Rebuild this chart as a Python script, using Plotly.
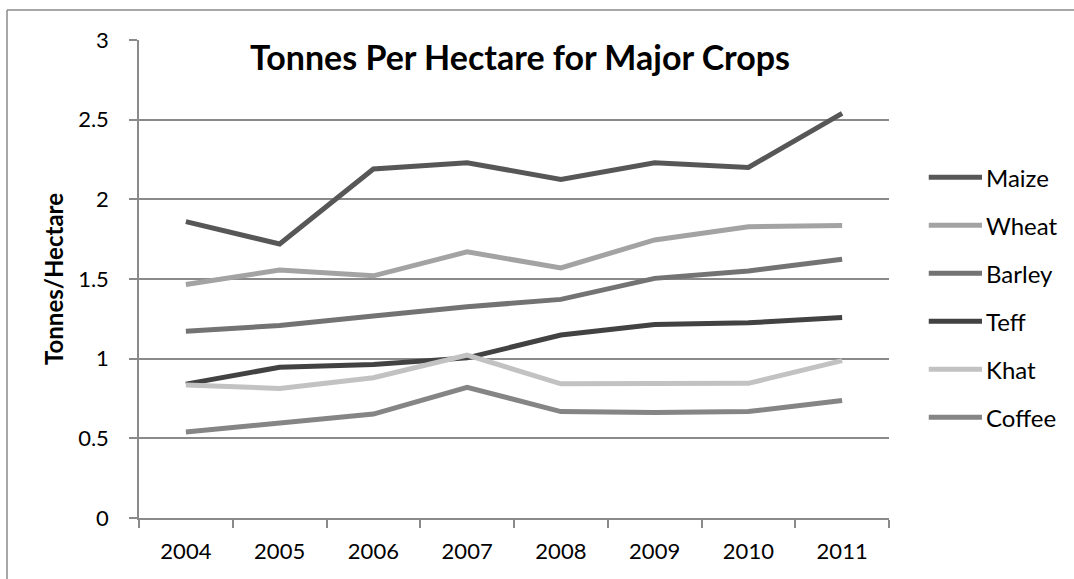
import plotly.graph_objects as go

# Yield data (tonnes per hectare) by year
years = ["2004", "2005", "2006", "2007", "2008", "2009", "2010", "2011"]
maize = [1.86, 1.72, 2.19, 2.23, 2.125, 2.23, 2.20, 2.54]
wheat = [1.466, 1.556, 1.52, 1.67, 1.57, 1.745, 1.828, 1.835]
barley = [1.172, 1.208, 1.268, 1.326, 1.372, 1.504, 1.55, 1.624]
teff = [0.84, 0.946, 0.964, 1.005, 1.148, 1.215, 1.225, 1.258]
khat = [0.835, 0.813, 0.88, 1.023, 0.842, 0.841, 0.845, 0.988]
coffee = [0.54, 0.598, 0.652, 0.82, 0.668, 0.662, 0.668, 0.737]

series_names = ["Maize", "Wheat", "Barley", "Teff", "Khat", "Coffee"]
series_values = [maize, wheat, barley, teff, khat, coffee]
series_colors = ["#575757", "#a3a3a3", "#737373", "#424242", "#c2c2c2", "#858585"]

FONT = "Lato"
LINE_W = 5

fig = go.Figure()
for name, vals, col in zip(series_names, series_values, series_colors):
    fig.add_trace(go.Scatter(
        x=years, y=vals, name=name, mode="lines",
        line=dict(color=col, width=LINE_W),
        showlegend=False,
    ))

# Hand-built legend to the right of the plot area
leg_top = 0.7128
leg_step = 0.1004
for i, (name, col) in enumerate(zip(series_names, series_colors)):
    yy = leg_top - i * leg_step
    fig.add_shape(type="line", xref="paper", yref="paper",
                  x0=1.053, x1=1.124, y0=yy, y1=yy,
                  line=dict(color=col, width=LINE_W))
    fig.add_annotation(xref="paper", yref="paper", x=1.127, y=yy,
                       text=name, showarrow=False, xanchor="left",
                       yanchor="middle",
                       font=dict(family=FONT, size=24, color="#000"))

# Chart frame (top and left edges)
fig.add_shape(type="line", xref="paper", yref="paper",
              x0=-0.176, x1=1.3, y0=1.063, y1=1.063,
              line=dict(color="#8a8a8a", width=1.5))
fig.add_shape(type="line", xref="paper", yref="paper",
              x0=-0.176, x1=-0.176, y0=1.063, y1=-0.2,
              line=dict(color="#8a8a8a", width=1.5))

fig.update_layout(
    width=1074, height=579,
    margin=dict(l=139, r=185, t=40, b=61),
    paper_bgcolor="white", plot_bgcolor="white",
    font=dict(family=FONT, size=22, color="#000"),
    title=dict(text="<b>Tonnes Per Hectare for Major Crops</b>",
               x=0.508, xanchor="center", xref="paper",
               y=0.9, yanchor="middle",
               font=dict(family=FONT, size=34, color="#000")),
    xaxis=dict(
        type="category", range=[-0.5, 7.5],
        showline=True, linecolor="#8a8a8a", linewidth=1.5,
        ticks="outside", tickson="boundaries", ticklen=8,
        tickcolor="#8a8a8a", tickwidth=1.5,
        ticklabelstandoff=13,
        showgrid=False,
        tickfont=dict(family=FONT, size=22, color="#000"),
    ),
    yaxis=dict(
        range=[0, 3], dtick=0.5, tick0=0,
        showline=True, linecolor="#8a8a8a", linewidth=1.5,
        ticks="outside", ticklen=8, tickcolor="#8a8a8a", tickwidth=1.5,
        ticklabelstandoff=16,
        showgrid=True, gridcolor="#8a8a8a", gridwidth=1.5,
        zeroline=False,
        tickfont=dict(family=FONT, size=22, color="#000"),
        title=dict(text="<b>Tonnes/Hectare</b>", standoff=8,
                   font=dict(family=FONT, size=24, color="#000")),
    ),
)

fig.write_html("out.html")
